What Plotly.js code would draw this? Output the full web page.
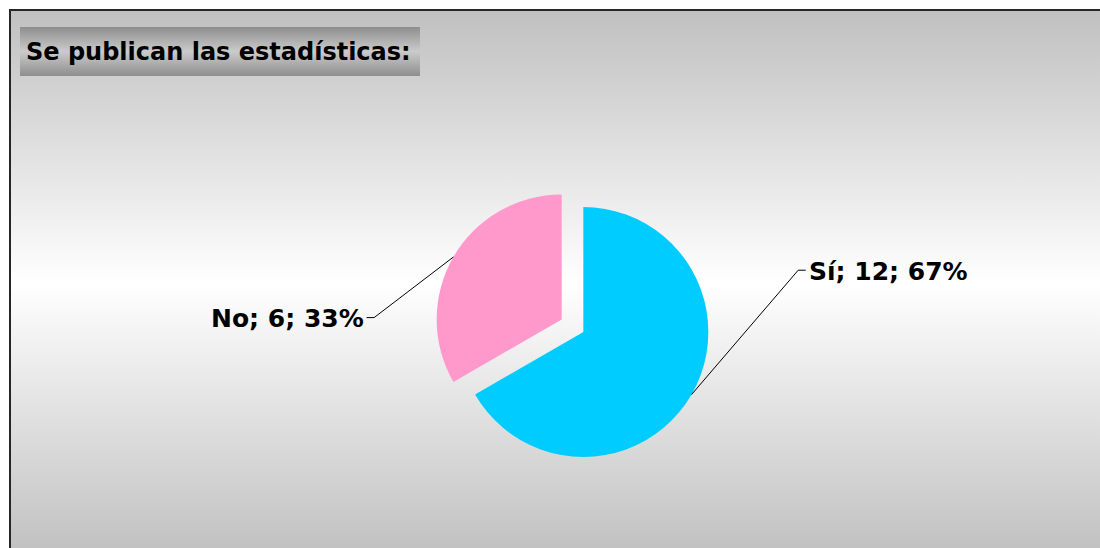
<!DOCTYPE html>
<html>
<head>
<meta charset="utf-8">
<script src="https://cdn.plot.ly/plotly-3.0.1.min.js"></script>
<style>
  html, body { margin: 0; padding: 0; background: #ffffff; width: 1100px; height: 548px; overflow: hidden; }
  #frame { position: absolute; left: 9px; top: 9px; width: 1100px; height: 545px;
           border-top: 2px solid #262626; border-left: 2px solid #262626;
           background: linear-gradient(to bottom, #c0c0c0 0%, #ffffff 50%, #c0c0c0 100%); }
  #titlebox { position: absolute; left: 20px; top: 27px; width: 400px; height: 49px;
           background: linear-gradient(to bottom, #8e8e8e 0%, #cbcbcb 50%, #8e8e8e 100%); }
  #chart { position: absolute; left: 0; top: 0; width: 1100px; height: 548px; }
</style>
</head>
<body>
<div id="frame"></div>
<div id="titlebox"></div>
<div id="chart"></div>
<script>
// Data
const categories = ["Sí", "No"];
const counts = [12, 6];
const pulls = [0, 0.2];
const colors = ["#00CCFF", "#FF99CC"];
const chartTitle = "Se publican las estadísticas:";

const W = 1100, H = 548;
const FONT = "DejaVu Sans";

const trace = {
  type: "pie",
  labels: categories,
  values: counts,
  pull: pulls,
  sort: false,
  direction: "clockwise",
  rotation: 0,
  textinfo: "none",
  hoverinfo: "label+value+percent",
  marker: { colors: colors, line: { width: 0 } },
  domain: { x: [0.3939, 0.6667], y: [0.1204, 0.6679] },
  showlegend: false
};

const layout = {
  width: W, height: H,
  margin: { l: 0, r: 0, t: 0, b: 0 },
  paper_bgcolor: "rgba(0,0,0,0)",
  plot_bgcolor: "rgba(0,0,0,0)",
  showlegend: false,
  title: {
    text: chartTitle,
    x: 26 / W, xanchor: "left", xref: "paper",
    y: 1 - 52 / H, yanchor: "middle", yref: "paper",
    font: { family: FONT, size: 24, weight: "bold", color: "#000000" }
  }
};

Plotly.newPlot("chart", [trace], layout, { displayModeBar: false, staticPlot: true }).then(function (gd) {
  const cd = gd.calcdata[0];
  const cx = cd[0].cx, cy = cd[0].cy, r = cd[0].r;
  const total = counts.reduce((a, b) => a + b, 0);
  // label placement offsets (styling): knee offset from slice edge, horizontal tick length
  const knee = [[106.6, -124.3], [-79.3, 60.6]];
  const tick = [7.5, -7.5];
  const shapes = [], annotations = [];
  let cum = 0;
  counts.forEach(function (v, i) {
    const midFrac = (cum + v / 2) / total;
    cum += v;
    const ang = midFrac * 2 * Math.PI;
    const sx = Math.sin(ang), sy = -Math.cos(ang);
    const pr = r * pulls[i];
    const ox = cx + pr * sx, oy = cy + pr * sy;
    const tx = ox + r * sx, ty = oy + r * sy;
    const kx = tx + knee[i][0], ky = ty + knee[i][1];
    const ex = kx + tick[i], ey = ky;
    const P = (x, y) => (x / W).toFixed(5) + "," + (1 - y / H).toFixed(5);
    shapes.push({
      type: "path", xref: "paper", yref: "paper",
      path: "M" + P(tx, ty) + " L" + P(kx, ky) + " L" + P(ex, ey),
      line: { color: "#000000", width: 1 }
    });
    const pct = Math.round(100 * v / total);
    annotations.push({
      xref: "paper", yref: "paper",
      x: (ex + (tick[i] > 0 ? 1 : -1)) / W, y: 1 - (ey + 1) / H,
      xanchor: tick[i] > 0 ? "left" : "right", yanchor: "middle",
      showarrow: false,
      text: categories[i] + "; " + v + "; " + pct + "%",
      font: { family: FONT, size: 25, weight: "bold", color: "#000000" }
    });
  });
  return Plotly.relayout(gd, { shapes: shapes, annotations: annotations });
});
</script>
</body>
</html>
